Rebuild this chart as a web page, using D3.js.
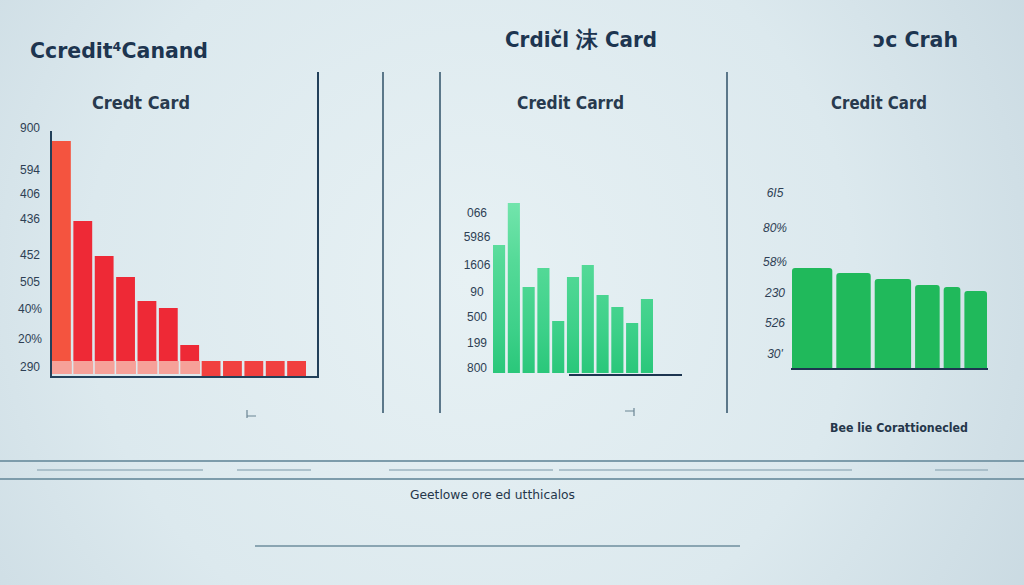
<!DOCTYPE html>
<html lang="en">
<head>
<meta charset="UTF-8">
<title>Credit Card</title>
<script src="https://d3js.org/d3.v7.min.js"></script>
<style>
    body {
    margin: 0;
    background-color: #dde9ee;
    }
    .title {
    fill: #1d3550;
    font-family: "DejaVu Sans Condensed", "Open Sans", sans-serif;
    font-weight: 700;
    }
    .sub {
    fill: #283a4e;
    font-family: "DejaVu Sans Condensed", "Open Sans", sans-serif;
    font-weight: 700;
    }
    .tick {
    fill: #2e3f54;
    font-family: "Liberation Sans", sans-serif;
    font-size: 12px;
    }
    .note {
    fill: #25364a;
    font-family: "DejaVu Sans Condensed", "Open Sans", sans-serif;
    font-size: 12px;
    }
</style>
</head>
<body>
<svg id="chart" width="1024" height="585"></svg>
<script>
    const width = 1024;
    const height = 585;

    // left panel (red)
    const leftValues = [235, 155, 120, 99, 75, 68, 31, 15, 15, 15, 15, 15];
    const leftBase = [15, 15, 15, 15, 15, 15, 15, 0, 0, 0, 0, 0];
    const leftTicks = ["900", "594", "406", "436", "452", "505", "40%", "20%", "290"];
    const leftTickPos = [248, 206, 182, 157, 121, 94, 67, 37, 9];

    // middle panel (green)
    const midValues = [128, 170, 86, 105, 52, 96, 108, 78, 66, 50, 74];
    const midTicks = ["066", "5986", "1606", "90", "500", "199", "800"];
    const midTickPos = [160, 136, 108, 81, 56, 30, 5];

    // right panel (green, variable widths)
    const rightValues = [100, 95, 89, 83, 81, 77];
    const rightWidths = [41, 35, 37, 25, 17, 23];
    const rightTicks = ["6I5", "80%", "58%", "230", "526", "30'"];
    const rightTickPos = [175, 140, 106, 75, 45, 14];

    const titles = ["Ccredit\u2074Canand", "Crdi\u010dl \u6cab Card", "\u0254c Crah"];
    const subtitles = ["Credt Card", "Credit Carrd", "Credit Card"];

    const svg = d3.select("#chart");
    const defs = svg.append("defs");

    const bg = defs.append("radialGradient")
      .attr("id", "bg")
      .attr("gradientUnits", "userSpaceOnUse")
      .attr("cx", 470).attr("cy", 280).attr("r", 640);
    bg.append("stop").attr("offset", 0).attr("stop-color", "#e7f1f4");
    bg.append("stop").attr("offset", 0.6).attr("stop-color", "#dce9ee");
    bg.append("stop").attr("offset", 1).attr("stop-color", "#cadae2");

    const mint = defs.append("linearGradient")
      .attr("id", "mint")
      .attr("gradientUnits", "userSpaceOnUse")
      .attr("x1", 0).attr("x2", 0).attr("y1", 200).attr("y2", 373);
    mint.append("stop").attr("offset", 0).attr("stop-color", "#74e5ad");
    mint.append("stop").attr("offset", 0.35).attr("stop-color", "#55da98");
    mint.append("stop").attr("offset", 0.75).attr("stop-color", "#3dd089");
    mint.append("stop").attr("offset", 1).attr("stop-color", "#2ac77a");

    svg.append("rect")
      .attr("width", width)
      .attr("height", height)
      .attr("fill", "url(#bg)");

    // Titles
    const titleBox = [[30, 58, 178], [505, 47, 152], [873, 47, 85]];
    svg.selectAll(".title")
      .data(titles)
      .enter()
      .append("text")
      .attr("class", "title")
      .attr("x", (d, i) => titleBox[i][0])
      .attr("y", (d, i) => titleBox[i][1])
      .attr("font-size", 22)
      .attr("textLength", (d, i) => titleBox[i][2])
      .attr("lengthAdjust", "spacingAndGlyphs")
      .text(d => d);

    const subBox = [[92, 98], [517, 107], [831, 96]];
    svg.selectAll(".sub")
      .data(subtitles)
      .enter()
      .append("text")
      .attr("class", "sub")
      .attr("x", (d, i) => subBox[i][0])
      .attr("y", 109)
      .attr("font-size", 17)
      .attr("textLength", (d, i) => subBox[i][1])
      .attr("lengthAdjust", "spacingAndGlyphs")
      .text(d => d);

    // Divider lines
    const dividers = [[383, 72, 413], [440, 72, 413], [727, 72, 413]];
    svg.selectAll(".divider")
      .data(dividers)
      .enter()
      .append("line")
      .attr("class", "divider")
      .attr("x1", d => d[0]).attr("x2", d => d[0])
      .attr("y1", d => d[1]).attr("y2", d => d[2])
      .attr("stroke", "#3a5a70")
      .attr("stroke-width", 1.6);

    // ---- Left panel ----
    const xL = d3.scaleBand()
      .domain(d3.range(leftValues.length))
      .range([52, 306])
      .paddingInner(0.12);
    const yL = d3.scaleLinear().domain([0, 250]).range([376, 126]);

    const leftFill = i => i === 0 ? "#f4543f" : (i < 7 ? "#ee2936" : "#f1403f");

    svg.selectAll(".lbar")
      .data(leftValues)
      .enter()
      .append("rect")
      .attr("class", "lbar")
      .attr("x", (d, i) => xL(i))
      .attr("width", xL.bandwidth())
      .attr("y", d => yL(d))
      .attr("height", (d, i) => yL(leftBase[i]) - yL(d))
      .attr("fill", (d, i) => leftFill(i));

    svg.selectAll(".lbase")
      .data(leftBase.filter(d => d > 0))
      .enter()
      .append("rect")
      .attr("class", "lbase")
      .attr("x", (d, i) => xL(i))
      .attr("width", xL.bandwidth() + 1)
      .attr("y", d => yL(d))
      .attr("height", d => yL(0) - yL(d) - 2)
      .attr("fill", "#f6a199");

    const axisL = svg.append("g")
      .attr("transform", "translate(20,0)")
      .call(d3.axisLeft(yL).tickValues(leftTickPos).tickSize(0)
        .tickFormat((d, i) => leftTicks[i]));
    axisL.select(".domain").remove();
    axisL.selectAll("text")
      .attr("class", "tick")
      .attr("text-anchor", "middle")
      .attr("x", 10)
      .attr("font-size", null)
      .attr("font-family", null)
      .attr("fill", null);

    svg.append("path")
      .attr("d", "M51,131V377H318V72")
      .attr("fill", "none")
      .attr("stroke", "#22405a")
      .attr("stroke-width", 2);

    // ---- Middle panel ----
    const xM = d3.scaleBand()
      .domain(d3.range(midValues.length))
      .range([493, 653])
      .paddingInner(0.18);
    const yM = d3.scaleLinear().domain([0, 200]).range([373, 173]);

    svg.selectAll(".mbar")
      .data(midValues)
      .enter()
      .append("rect")
      .attr("class", "mbar")
      .attr("x", (d, i) => xM(i))
      .attr("width", xM.bandwidth())
      .attr("y", d => yM(d))
      .attr("height", d => yM(0) - yM(d))
      .attr("fill", "url(#mint)");

    const axisM = svg.append("g")
      .attr("transform", "translate(477,0)")
      .call(d3.axisLeft(yM).tickValues(midTickPos).tickSize(0)
        .tickFormat((d, i) => midTicks[i]));
    axisM.select(".domain").remove();
    axisM.selectAll("text")
      .attr("class", "tick")
      .attr("text-anchor", "middle")
      .attr("x", 0)
      .attr("font-size", null)
      .attr("font-family", null)
      .attr("fill", null);

    svg.append("line")
      .attr("x1", 569).attr("x2", 682)
      .attr("y1", 375).attr("y2", 375)
      .attr("stroke", "#1d3550")
      .attr("stroke-width", 1.8);

    // ---- Right panel ----
    const gap = 4;
    const cum = d3.cumsum(rightWidths);
    const xR = d3.scaleLinear()
      .domain([0, cum[cum.length - 1]])
      .range([792, 987 - gap * (rightWidths.length - 1)]);
    const yR = d3.scaleLinear().domain([0, 200]).range([368, 168]);

    svg.selectAll(".rbar")
      .data(rightValues)
      .enter()
      .append("path")
      .attr("class", "rbar")
      .attr("d", (d, i) => {
        const x0 = xR(cum[i] - rightWidths[i]) + gap * i;
        const x1 = xR(cum[i]) + gap * i;
        const y0 = yR(0), y1 = yR(d), r = 3;
        return `M${x0},${y0}V${y1 + r}Q${x0},${y1} ${x0 + r},${y1}H${x1 - r}Q${x1},${y1} ${x1},${y1 + r}V${y0}Z`;
      })
      .attr("fill", "#20b95b");

    const axisR = svg.append("g")
      .attr("transform", "translate(775,0)")
      .call(d3.axisLeft(yR).tickValues(rightTickPos).tickSize(0)
        .tickFormat((d, i) => rightTicks[i]));
    axisR.select(".domain").remove();
    axisR.selectAll("text")
      .attr("class", "tick")
      .attr("text-anchor", "middle")
      .attr("x", 0)
      .attr("font-style", "italic")
      .attr("font-size", null)
      .attr("font-family", null)
      .attr("fill", null);

    svg.append("line")
      .attr("x1", 791).attr("x2", 988)
      .attr("y1", 369).attr("y2", 369)
      .attr("stroke", "#1d3550")
      .attr("stroke-width", 1.8);

    // small corner marks
    svg.append("path")
      .attr("d", "M247,410V418M247,416H256M634,408V416M625,411H634")
      .attr("fill", "none")
      .attr("stroke", "#6b8594")
      .attr("stroke-width", 1.2);

    svg.append("text")
      .attr("class", "note")
      .attr("x", 830).attr("y", 432)
      .attr("font-weight", 700)
      .attr("textLength", 138)
      .attr("lengthAdjust", "spacingAndGlyphs")
      .text("Bee lie Corattionecled");

    // bottom rules
    svg.selectAll(".rule")
      .data([461, 479])
      .enter()
      .append("line")
      .attr("class", "rule")
      .attr("x1", 0).attr("x2", width)
      .attr("y1", d => d).attr("y2", d => d)
      .attr("stroke", "#7d9cab")
      .attr("stroke-width", 2);

    const segs = [[37, 203], [237, 311], [389, 553], [559, 852], [935, 988]];
    svg.selectAll(".seg")
      .data(segs)
      .enter()
      .append("line")
      .attr("class", "seg")
      .attr("x1", d => d[0]).attr("x2", d => d[1])
      .attr("y1", 470).attr("y2", 470)
      .attr("stroke", "#9bb3bf")
      .attr("stroke-width", 1.6);

    svg.append("text")
      .attr("class", "note")
      .attr("x", 410).attr("y", 499)
      .attr("textLength", 165)
      .attr("lengthAdjust", "spacingAndGlyphs")
      .text("Geetlowe ore ed utthicalos");

    svg.append("line")
      .attr("x1", 255).attr("x2", 740)
      .attr("y1", 546).attr("y2", 546)
      .attr("stroke", "#8aa5b2")
      .attr("stroke-width", 2);
</script>
</body>
</html>
